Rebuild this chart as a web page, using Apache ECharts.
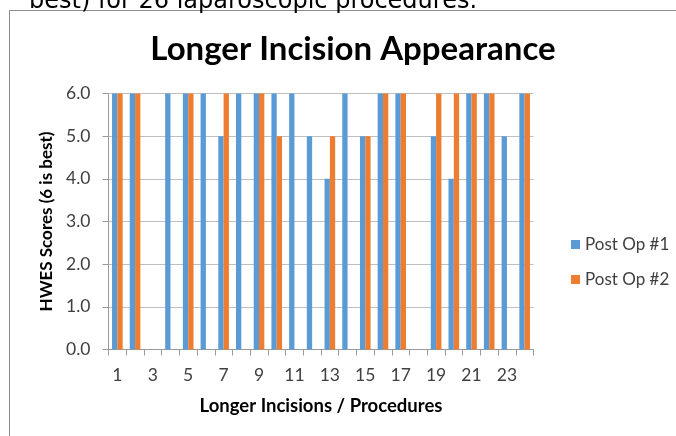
<!DOCTYPE html>
<html>
<head>
<meta charset="utf-8">
<script src="https://cdn.jsdelivr.net/npm/echarts@6/dist/echarts.min.js"></script>
<style>
html,body{margin:0;padding:0;background:#fff;}
#chart{width:676px;height:436px;}
</style>
</head>
<body>
<div id="chart"></div>
<script>
var categories = ['1','2','3','4','5','6','7','8','9','10','11','12','13','14','15','16','17','18','19','20','21','22','23','24'];
var postOp1 = [6,6,null,6,6,6,5,6,6,6,6,5,4,6,5,6,6,null,5,4,6,6,5,6];
var postOp2 = [6,6,null,null,6,null,6,null,6,5,null,null,5,null,5,6,6,null,6,6,6,6,null,6];
var seriesNames = ['Post Op #1','Post Op #2'];
var colors = ['#5B9BD5','#ED7D31'];

var chart = echarts.init(document.getElementById('chart'));
var font = 'Lato, "Open Sans", sans-serif';
chart.setOption({
  animation: false,
  backgroundColor: '#fff',
  title: {
    text: 'Longer Incision Appearance',
    left: 348, top: 28, textAlign: 'center',
    textStyle: {fontFamily: font, fontWeight: 'bold', fontSize: 33, color: '#000'}
  },
  graphic: [
    {type: 'rect', shape: {x: 9.5, y: 10.5, width: 700, height: 500}, style: {fill: null, stroke: '#8c8c8c', lineWidth: 1}, silent: true},
    {type: 'text', x: 29, y: 1.5, style: {text: 'best) for 26 laparoscopic procedures.', font: '24px "DejaVu Sans"', fill: '#000', verticalAlign: 'middle', align: 'left'}}
  ],
  legend: {
    orient: 'vertical', left: 566, top: 231, itemWidth: 9, itemHeight: 9, itemGap: 18,
    icon: 'rect',
    textStyle: {fontFamily: font, fontSize: 17, color: '#404040'},
    data: seriesNames
  },
  grid: {left: 108.5, right: 142.5, top: 93.5, bottom: 86.5, containLabel: false},
  xAxis: {
    type: 'category', data: categories,
    name: 'Longer Incisions / Procedures', nameLocation: 'middle', nameGap: 47,
    nameTextStyle: {fontFamily: font, fontWeight: 'bold', fontSize: 18.5, color: '#000'},
    axisLine: {lineStyle: {color: '#9a9a9a'}},
    axisTick: {show: true, interval: 0, length: 6, lineStyle: {color: '#9a9a9a'}},
    axisLabel: {interval: 1, margin: 17, fontFamily: font, fontSize: 17.5, color: '#404040'}
  },
  yAxis: {
    type: 'value', min: 0, max: 6, interval: 1,
    name: 'HWES Scores (6 is best)', nameLocation: 'middle', nameGap: 52, nameRotate: 90,
    nameTextStyle: {fontFamily: font, fontWeight: 'bold', fontSize: 17, color: '#000'},
    axisLine: {show: true, lineStyle: {color: '#9a9a9a'}},
    axisTick: {show: true, length: 6, lineStyle: {color: '#9a9a9a'}},
    splitLine: {lineStyle: {color: '#bfbfbf'}},
    axisLabel: {margin: 18, fontFamily: font, fontSize: 17.5, color: '#404040', formatter: function(v){return v.toFixed(1);}}
  },
  series: [
    {name: seriesNames[0], type: 'bar', data: postOp1, barWidth: '30%', barGap: '0%', itemStyle: {color: colors[0]}},
    {name: seriesNames[1], type: 'bar', data: postOp2, barWidth: '30%', barGap: '0%', itemStyle: {color: colors[1]}}
  ]
});
</script>
</body>
</html>
